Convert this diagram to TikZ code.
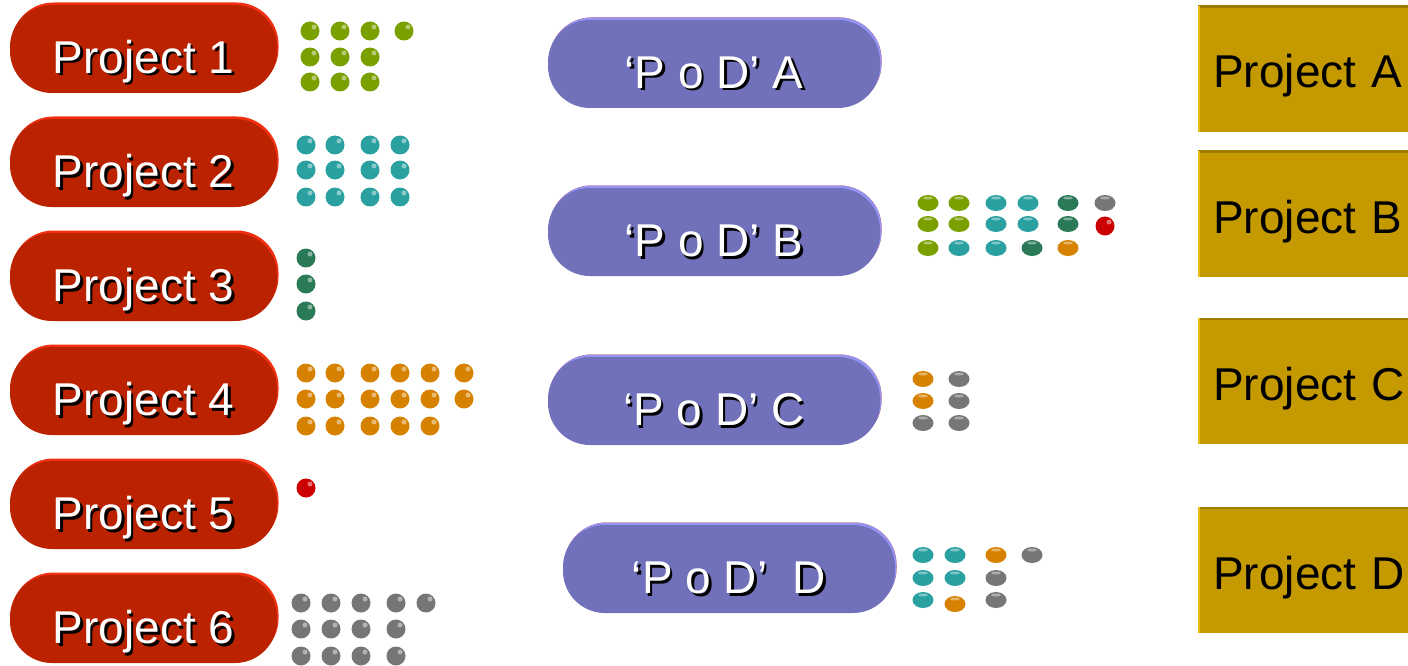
\documentclass[tikz,border=0pt]{standalone}
\usepackage{fontspec}
\setmainfont{Liberation Sans}
\usetikzlibrary{positioning}

\definecolor{projred}{HTML}{BB2200}
\definecolor{projrim}{HTML}{F03010}
\definecolor{podblue}{HTML}{7070BB}
\definecolor{podrim}{HTML}{9494F2}
\definecolor{gold}{HTML}{C49A00}
\definecolor{goldlight}{HTML}{E6BE10}
\definecolor{golddark}{HTML}{9E7C00}
\definecolor{bgreen}{HTML}{7AA000}
\definecolor{bteal}{HTML}{2AA0A0}
\definecolor{bdkgreen}{HTML}{2A7A58}
\definecolor{borange}{HTML}{D68200}
\definecolor{bgrey}{HTML}{767676}
\definecolor{bred}{HTML}{CC0000}

% white text with a black drop shadow
\newcommand{\shadowed}[1]{\makebox[0pt][l]{\hspace{2.5pt}\raisebox{-2.5pt}{\color{black}#1}}#1}
% round bead and flat bead
\newcommand{\bead}[3]{\fill[#1] (#2,#3) circle (9.5pt); \fill[white,opacity=.45] (#2+4,#3-4) circle (2.5pt);}
\newcommand{\bean}[3]{\fill[#1] (#2,#3) ellipse (10.5pt and 8pt); \fill[white,opacity=.4] (#2,#3-5) ellipse (5pt and 1.5pt);}

\tikzset{
  projpill/.style={rectangle, rounded corners=42pt, minimum width=267pt, minimum height=88pt,
    fill=projred, preaction={fill=projrim, transform canvas={xshift=1.5pt,yshift=2.5pt}},
    text=white, text height=49pt, text depth=0pt, inner sep=0pt, font=\fontsize{46}{50}\selectfont},
  podpill/.style={projpill, minimum width=332pt, fill=podblue,
    preaction={fill=podrim, transform canvas={xshift=1.5pt,yshift=2.5pt}}},
  prbox/.style={rectangle, fill=gold, minimum height=126pt, text width=240pt, align=left,
    inner xsep=15pt, anchor=west, text height=38pt, text depth=0pt,
    font=\fontsize{46}{50}\selectfont,
    path picture={
      \draw[golddark, line width=4pt] (path picture bounding box.north west) -- (path picture bounding box.north east);
      \draw[goldlight, line width=4pt] (path picture bounding box.north west) -- (path picture bounding box.south west);
    }},
}

\begin{document}
\begin{tikzpicture}[x=1pt, y=-1pt]
    \useasboundingbox (0,0) rectangle (1408,666);
    \clip (0,0) rectangle (1408,666);

    % projects on the left
    \foreach \i in {1,...,6} {
      \node[projpill] (p\i) at (143.5,{49+114*(\i-1)}) {\shadowed{Project \i}};
    };

    % the four PoDs
    \node[podpill] (podA) at (714,64) {\shadowed{‘P o D’ A}};
    \node[podpill] (podB) at (714,232) {\shadowed{‘P o D’ B}};
    \node[podpill] (podC) at (714,401) {\shadowed{‘P o D’ C}};
    \node[podpill] (podD) at (729,569) {\shadowed{‘P o D’\ \ D}};

    % projects on the right
    \node[prbox] (prA) at (1198,69) {Project A};
    \node[prbox] (prB) at (1198,214) {Project B};
    \node[prbox] (prC) at (1198,381) {Project C};
    \node[prbox] (prD) at (1198,570) {Project D};

    % beads of each project
    \foreach \y in {31,57,82} {\foreach \x in {310,340,370} {\bead{bgreen}{\x}{\y}}};
    \bead{bgreen}{404}{31}
    \foreach \y in {145,170,197} {\foreach \x in {306,335,370,400} {\bead{bteal}{\x}{\y}}};
    \foreach \y in {258,284,311} {\bead{bdkgreen}{306}{\y}};
    \foreach \y in {373,399} {\foreach \x in {306,335,370,400,430,464} {\bead{borange}{\x}{\y}}};
    \foreach \x in {306,335,370,400,430} {\bead{borange}{\x}{426}};
    \bead{bred}{306}{488}
    \foreach \y in {603,629,656} {\foreach \x in {301,331,361,396} {\bead{bgrey}{\x}{\y}}};
    \bead{bgrey}{426}{603}

    % beads handed to the PoDs
    \foreach \x/\y/\c in {928/203/bgreen, 959/203/bgreen, 996/203/bteal, 1028/203/bteal, 1068/203/bdkgreen, 1105/203/bgrey,
                          928/224/bgreen, 959/224/bgreen, 996/224/bteal, 1028/224/bteal, 1068/224/bdkgreen,
                          928/248/bgreen, 959/248/bteal, 996/248/bteal, 1032/248/bdkgreen, 1068/248/borange} {
      \bean{\c}{\x}{\y}
    };
    \bead{bred}{1105}{226}
    \foreach \x/\y/\c in {923/379/borange, 923/401/borange, 923/423/bgrey,
                          959/379/bgrey, 959/401/bgrey, 959/423/bgrey} {
      \bean{\c}{\x}{\y}
    };
    \foreach \x/\y/\c in {923/555/bteal, 955/555/bteal, 996/555/borange, 1032/555/bgrey,
                          923/578/bteal, 955/578/bteal, 996/578/bgrey,
                          923/600/bteal, 955/604/borange, 996/600/bgrey} {
      \bean{\c}{\x}{\y}
    };
\end{tikzpicture}
\end{document}
